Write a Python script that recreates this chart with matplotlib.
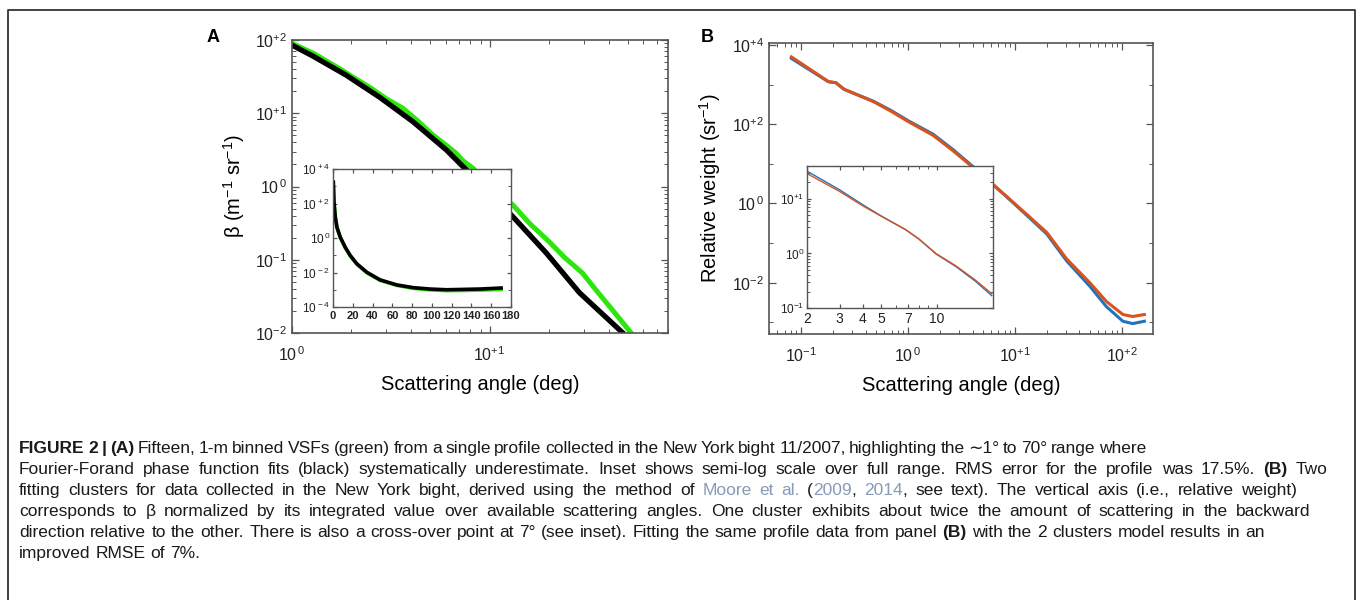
import matplotlib
matplotlib.use("Agg")
import matplotlib.pyplot as plt
from matplotlib.ticker import FixedLocator, FixedFormatter, LogLocator, NullFormatter
from matplotlib.lines import Line2D

plt.rcParams['font.family'] = ['Liberation Sans', 'DejaVu Sans']
plt.rcParams['mathtext.fontset'] = 'custom'
plt.rcParams['mathtext.rm'] = 'Liberation Sans'
plt.rcParams['mathtext.it'] = 'Liberation Sans:italic'
plt.rcParams['mathtext.bf'] = 'Liberation Sans:bold'

# ---------------- data ----------------
# Panel A main: measured VSF (green) and Fourier-Forand fit (black)
a_black_angle = [1.0, 1.28, 1.88, 2.78, 4.09, 6.04, 7.33, 8.9, 13.1, 19.4, 28.5, 47.3, 55.0]
a_black_beta = [85.1, 60.0, 33.1, 16.5, 7.69, 3.16, 1.875, 1.146, 0.389, 0.123, 0.0355, 0.010, 0.0069]
a_green_angle = [1.0, 1.28, 1.74, 2.1, 2.52, 3.0, 3.64, 4.3, 5.16, 6.0, 6.76, 7.4, 8.24, 10.0,
                 13.1, 16.0, 19.95, 24.0, 29.5, 35.0, 41.7, 52.1, 60.0]
a_green_beta = [90.2, 66.0, 40.7, 29.5, 21.9, 15.8, 11.7, 8.0, 5.07, 3.7, 2.85, 2.2, 1.78, 1.0,
                0.562, 0.31, 0.178, 0.107, 0.066, 0.037, 0.0209, 0.010, 0.0070]

# Panel A inset (full range, semi-log)
ia_angle = [0.34, 1.0, 2.35, 4.0, 7.4, 12.4, 17.5, 24.2, 34.3, 47.7, 64.5, 81.3, 98, 115, 132, 148.6, 170]
ia_black = [1700, 117, 15.8, 4.17, 1.10, 0.288, 0.0955, 0.0316, 0.0102, 0.00372, 0.00191,
            0.00132, 0.00110, 0.00100, 0.00105, 0.00110, 0.00126]
ia_green = [1700, 117, 15.8, 4.0, 1.05, 0.275, 0.091, 0.030, 0.0097, 0.00350, 0.00178,
            0.00120, 0.00098, 0.00089, 0.00091, 0.00095, 0.00105]

# Panel B main: two fitting clusters
b_angle = [0.081, 0.18, 0.211, 0.252, 0.474, 0.679, 1.0, 1.71, 2.63, 4.05, 6.03, 8.32,
           11.97, 19.8, 30.4, 50.1, 71.4, 102, 126, 162]
b_red = [5000, 1190, 1120, 759, 372, 219, 117, 52.5, 21.4, 8.13, 3.24, 1.51,
         0.631, 0.186, 0.0398, 0.010, 0.00339, 0.00158, 0.00141, 0.00158]
b_blue = [4570, 1175, 1110, 759, 380, 229, 123, 56.2, 22.9, 8.51, 3.24, 1.48,
          0.603, 0.170, 0.0355, 0.00813, 0.00251, 0.00107, 0.000933, 0.00107]

# Panel B inset (2-20 deg)
ib_angle = [2.02, 3.0, 4.0, 4.9, 6.8, 8.0, 9.9, 12.6, 16.1, 19.7]
ib_blue = [31.6, 14.6, 7.76, 5.09, 2.71, 1.83, 0.973, 0.578, 0.309, 0.168]
ib_red = [28.6, 13.6, 7.41, 5.01, 2.71, 1.83, 0.99, 0.596, 0.324, 0.183]

# tick labels
a_xticks = [1, 10]
a_xlabels = [r'$10^{\,0}$', r'$10^{+1}$']
a_yticks = [1e2, 1e1, 1e0, 1e-1, 1e-2]
a_ylabels = [r'$10^{+2}$', r'$10^{+1}$', r'$10^{\,0}$', r'$10^{-1}$', r'$10^{-2}$']
ia_xticks = [0, 20, 40, 60, 80, 100, 120, 140, 160, 180]
ia_yticks = [1e4, 1e2, 1e0, 1e-2, 1e-4]
ia_ylabels = [r'$10^{\,+4}$', r'$10^{\,+2}$', r'$10^{\,0}$', r'$10^{\,-2}$', r'$10^{\,-4}$']
b_xticks = [0.1, 1, 10, 100]
b_xlabels = [r'$10^{-1}$', r'$10^{\,0}$', r'$10^{+1}$', r'$10^{+2}$']
b_yticks = [1e4, 1e2, 1e0, 1e-2]
b_ylabels = [r'$10^{+4}$', r'$10^{+2}$', r'$10^{\,0}$', r'$10^{-2}$']
ib_xticks = [2, 3, 4, 5, 7, 10]
ib_yticks = [10, 1, 0.1]
ib_ylabels = [r'$10^{+1}$', r'$10^{0}$', r'$10^{-1}$']

W, H = 1360, 600
fig = plt.figure(figsize=(W / 100, H / 100), dpi=100)
fig.patch.set_facecolor('white')


def ax_px(left, top, right, bottom):
    return fig.add_axes([left / W, 1 - bottom / H, (right - left) / W, (bottom - top) / H])


SPINE = '#555555'


def style(ax, lw=1.2, major=5, minor=3, labelsize=11.5):
    for s in ax.spines.values():
        s.set_color(SPINE)
        s.set_linewidth(lw)
    ax.tick_params(which='both', direction='in', top=True, right=True, colors=SPINE,
                   labelcolor='#222222', labelsize=labelsize)
    ax.tick_params(which='major', length=major, width=0.9)
    ax.tick_params(which='minor', length=minor, width=0.7)


GREEN = '#2ee60e'
BLUE = '#1f74bd'
RED = '#d9531e'

# ---------------- Panel A ----------------
axA = ax_px(292, 40, 668, 333)
axA.set_xscale('log')
axA.set_yscale('log')
axA.plot(a_green_angle, a_green_beta, color=GREEN, lw=3.6, solid_capstyle='butt', solid_joinstyle='round')
axA.plot(a_black_angle, a_black_beta, color='black', lw=3.8, solid_capstyle='butt', solid_joinstyle='round')
axA.set_xlim(1, 80)
axA.set_ylim(1e-2, 1e2)
style(axA)
axA.xaxis.set_major_locator(FixedLocator(a_xticks))
axA.xaxis.set_major_formatter(FixedFormatter(a_xlabels))
axA.xaxis.set_minor_locator(LogLocator(base=10, subs=range(2, 10), numticks=20))
axA.xaxis.set_minor_formatter(NullFormatter())
axA.yaxis.set_major_locator(FixedLocator(a_yticks))
axA.yaxis.set_major_formatter(FixedFormatter(a_ylabels))
axA.yaxis.set_minor_locator(LogLocator(base=10, subs=range(2, 10), numticks=20))
axA.yaxis.set_minor_formatter(NullFormatter())
axA.tick_params(axis='x', pad=9)
axA.set_xlabel('Scattering angle (deg)', fontsize=14.5, labelpad=8)
axA.set_ylabel('β (m$^{-1}$ sr$^{-1}$)', fontsize=14.5, labelpad=6)
fig.text(213 / W, 1 - 38 / H, 'A', fontsize=13, fontweight='bold', ha='center', va='center')

# inset A
axIA = ax_px(333, 169, 511, 307)
axIA.set_yscale('log')
axIA.plot(ia_angle, ia_green, color=GREEN, lw=2.6)
axIA.plot(ia_angle, ia_black, color='black', lw=2.6)
axIA.set_xlim(0, 180)
axIA.set_ylim(1e-4, 1e4)
style(axIA, lw=1.0, major=3, minor=2, labelsize=8.5)
axIA.xaxis.set_major_locator(FixedLocator(ia_xticks))
axIA.yaxis.set_major_locator(FixedLocator(ia_yticks))
axIA.yaxis.set_major_formatter(FixedFormatter(ia_ylabels))
axIA.yaxis.set_minor_locator(LogLocator(base=10, subs=(1.0,), numticks=20))
axIA.yaxis.set_minor_formatter(NullFormatter())
axIA.tick_params(axis='x', pad=3, labelsize=8)
axIA.tick_params(axis='y', pad=2)
for lab in axIA.get_xticklabels():
    lab.set_fontweight('bold')

# ---------------- Panel B ----------------
axB = ax_px(769, 43, 1153, 334)
axB.set_xscale('log')
axB.set_yscale('log')
axB.plot(b_angle, b_blue, color=BLUE, lw=2.2, solid_joinstyle='round')
axB.plot(b_angle, b_red, color=RED, lw=2.2, solid_joinstyle='round')
axB.set_xlim(0.05, 195)
axB.set_ylim(5.1e-4, 1.12e4)
style(axB)
axB.xaxis.set_major_locator(FixedLocator(b_xticks))
axB.xaxis.set_major_formatter(FixedFormatter(b_xlabels))
axB.xaxis.set_minor_locator(LogLocator(base=10, subs=range(2, 10), numticks=20))
axB.xaxis.set_minor_formatter(NullFormatter())
axB.yaxis.set_major_locator(FixedLocator(b_yticks))
axB.yaxis.set_major_formatter(FixedFormatter(b_ylabels))
axB.yaxis.set_minor_locator(LogLocator(base=10, subs=(1.0,), numticks=20))
axB.yaxis.set_minor_formatter(NullFormatter())
axB.tick_params(axis='x', pad=9)
axB.set_xlabel('Scattering angle (deg)', fontsize=14.5, labelpad=8)
axB.set_ylabel('Relative weight (sr$^{-1}$)', fontsize=14.5, labelpad=6)
fig.text(707 / W, 1 - 37 / H, 'B', fontsize=13, fontweight='bold', ha='center', va='center')

# inset B
axIB = ax_px(807, 166, 993, 308)
axIB.set_xscale('log')
axIB.set_yscale('log')
axIB.plot(ib_angle, ib_blue, color=BLUE, lw=1.0)
axIB.plot(ib_angle, ib_red, color=RED, lw=1.0)
axIB.set_xlim(2, 20)
axIB.set_ylim(0.1, 40)
style(axIB, lw=1.0, major=3, minor=2, labelsize=10)
axIB.xaxis.set_major_locator(FixedLocator(ib_xticks))
axIB.xaxis.set_major_formatter(FixedFormatter([str(v) for v in ib_xticks]))
axIB.xaxis.set_minor_locator(FixedLocator([6, 8, 9, 20]))
axIB.xaxis.set_minor_formatter(NullFormatter())
axIB.yaxis.set_major_locator(FixedLocator(ib_yticks))
axIB.yaxis.set_major_formatter(FixedFormatter(ib_ylabels))
axIB.yaxis.set_minor_locator(LogLocator(base=10, subs=range(2, 10), numticks=20))
axIB.yaxis.set_minor_formatter(NullFormatter())
axIB.tick_params(axis='y', labelsize=8.5, pad=2)
axIB.tick_params(axis='x', pad=3)

# ---------------- border ----------------
fig.add_artist(Line2D([8 / W, 8 / W, 1355 / W, 1355 / W], [0, 1 - 10 / H, 1 - 10 / H, 0],
                      transform=fig.transFigure, color='#333333', lw=1.3))

# ---------------- caption ----------------
renderer = fig.canvas.get_renderer()
CAP = 12.5
LINK = '#8a9ab5'
_wcache = {}


def raw_w(s, weight):
    key = (s, weight)
    if key not in _wcache:
        t = fig.text(0, 0, s, fontsize=CAP, fontweight=weight)
        _wcache[key] = t.get_window_extent(renderer).width
        t.remove()
    return _wcache[key]


def adv_w(s, weight):
    return raw_w('|' + s + '|', weight) - raw_w('||', weight)


def build(pieces):
    segs = []
    pending_gap = False
    for s, weight, color in pieces:
        buf = ''
        for ch in s:
            if ch == ' ':
                if buf:
                    segs.append([buf, weight, color, pending_gap])
                    buf = ''
                pending_gap = True
            else:
                buf += ch
        if buf:
            segs.append([buf, weight, color, pending_gap])
            pending_gap = False
    if segs:
        segs[0][3] = False
    return segs


def rich_line(x0, y, pieces, target=None):
    segs = build(pieces)
    space = adv_w(' ', 'normal')
    ngaps = sum(1 for s in segs if s[3])
    natural = sum(adv_w(s, w) for s, w, c, g in segs) + space * ngaps
    extra = 0.0
    if target is not None and ngaps:
        extra = (target - x0 - natural) / ngaps
        extra = max(-1.6, min(3.2, extra))
    x = x0
    for s, w, c, g in segs:
        if g:
            x += space + extra
        fig.text(x / W, 1 - y / H, s, fontsize=CAP, fontweight=w, color=c, ha='left', va='baseline')
        x += adv_w(s, w)


K = '#1a1a1a'
lines = [
    [('FIGURE 2 | (A)', 'bold', K),
     (' Fifteen, 1-m binned VSFs (green) from a single profile collected in the New York bight 11/2007, highlighting the \u223c1\u00b0 to 70\u00b0 range where', 'normal', K)],
    [('Fourier-Forand phase function fits (black) systematically underestimate. Inset shows semi-log scale over full range. RMS error for the profile was 17.5%. ', 'normal', K),
     ('(B)', 'bold', K), (' Two', 'normal', K)],
    [('fitting clusters for data collected in the New York bight, derived using the method of ', 'normal', K),
     ('Moore et al.', 'normal', LINK), (' (', 'normal', K), ('2009', 'normal', LINK), (', ', 'normal', K),
     ('2014', 'normal', LINK), (', see text). The vertical axis (i.e., relative weight)', 'normal', K)],
    [('corresponds to \u03b2 normalized by its integrated value over available scattering angles. One cluster exhibits about twice the amount of scattering in the backward', 'normal', K)],
    [('direction relative to the other. There is also a cross-over point at 7\u00b0 (see inset). Fitting the same profile data from panel ', 'normal', K),
     ('(B)', 'bold', K), (' with the 2 clusters model results in an', 'normal', K)],
    [('improved RMSE of 7%.', 'normal', K)],
]
line_targets = [1146, 1349, 1297, 1349, 1265, None]
y0 = 453
for i, pieces in enumerate(lines):
    rich_line(19, y0 + i * 21, pieces, line_targets[i])

fig.savefig('out.png', dpi=100, facecolor='white')
